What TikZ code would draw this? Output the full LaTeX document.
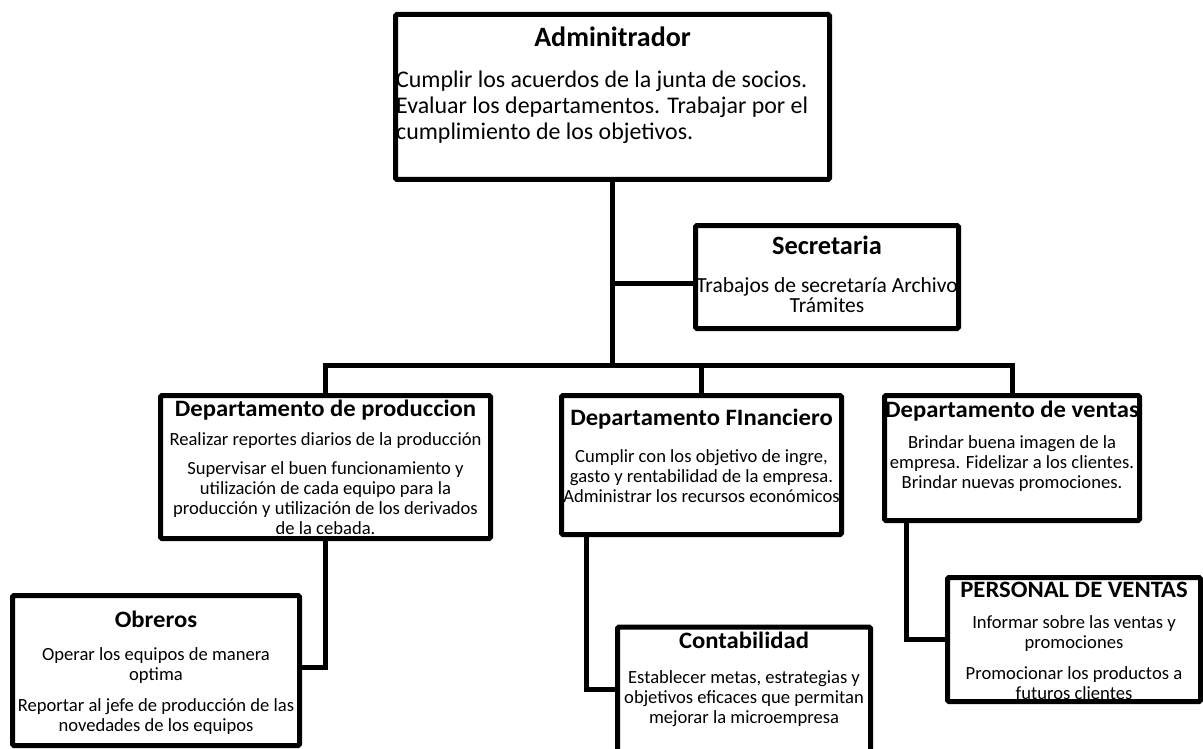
\documentclass[tikz,border=0pt]{standalone}
\usepackage{fontspec}
\setmainfont{Carlito}
\newfontfamily\titular[FakeStretch=1.05]{Carlito}
\usetikzlibrary{positioning}

\tikzset{
  caja/.style={draw, line width=5pt, rounded corners=1.5pt},
  linea/.style={line width=5pt},
  titulo/.style={anchor=base, inner sep=0pt, font=\titular\fontsize{23.5}{28}\selectfont\bfseries},
  cuerpo/.style={anchor=north, inner sep=0pt, align=center, font=\fontsize{18.6}{20}\selectfont},
}

\begin{document}
\begin{tikzpicture}[x=1pt, y=-1pt]
	\useasboundingbox (0,0) rectangle (1203,749);

	% cajas
	\node[caja, minimum width=434pt, minimum height=165pt] (admin) at (612.5,97) {};
	\node[caja, minimum width=263pt, minimum height=103pt] (secre) at (827,277) {};
	\node[caja, minimum width=330pt, minimum height=143pt] (prod) at (325.5,467) {};
	\node[caja, minimum width=280pt, minimum height=139pt] (fin) at (701.5,465) {};
	\node[caja, minimum width=255pt, minimum height=125pt] (ventas) at (1012,458) {};
	\node[caja, minimum width=287pt, minimum height=150pt] (obreros) at (156,670.5) {};
	\node[caja, minimum width=253pt, minimum height=150pt] (conta) at (744,702) {};
	\node[caja, minimum width=253pt, minimum height=124pt] (personal) at (1074,639.5) {};

	% textos
	\node[titulo, font=\fontsize{28}{32}\selectfont\bfseries] (admin-tit) at (612.5,47) {Adminitrador};
	\node[cuerpo, anchor=north west, align=left, font=\fontsize{23.9}{26}\selectfont] (admin-txt) at (396,70.3)
		{Cumplir los acuerdos de la junta de socios.\\ Evaluar los departamentos. Trabajar por el\\ cumplimiento de los objetivos.};

	\node[titulo, font=\fontsize{26.4}{30}\selectfont\bfseries] (secre-tit) at (827,254) {Secretaria};
	\node[cuerpo, font=\fontsize{21.5}{20}\selectfont] (secre-txt) at (827,277.7)
		{Trabajos de secretaría Archivo\\ Trámites};

	\node[titulo] (prod-tit) at (325.5,416) {Departamento de produccion};
	\node[cuerpo] (prod-txt) at (325.5,432)
		{Realizar reportes diarios de la producción\\[9pt]
		 Supervisar el buen funcionamiento y\\ utilización de cada equipo para la\\
		 producción y utilización de los derivados\\ de la cebada.};

	\node[titulo] (fin-tit) at (701.5,425) {Departamento FInanciero};
	\node[cuerpo] (fin-txt) at (701.5,449)
		{Cumplir con los objetivo de ingre,\\ gasto y rentabilidad de la empresa.\\ Administrar los recursos económicos};

	\node[titulo] (ventas-tit) at (1012,417) {Departamento de ventas};
	\node[cuerpo] (ventas-txt) at (1012,435)
		{Brindar buena imagen de la\\ empresa. Fidelizar a los clientes.\\ Brindar nuevas promociones.};

	\node[titulo] (obreros-tit) at (156,627) {Obreros};
	\node[cuerpo] (obreros-txt) at (156,647)
		{Operar los equipos de manera\\ optima\\[11pt] Reportar al jefe de producción de las\\ novedades de los equipos};

	\node[titulo] (conta-tit) at (744,648) {Contabilidad};
	\node[cuerpo] (conta-txt) at (744,670)
		{Establecer metas, estrategias y\\ objetivos eficaces que permitan\\ mejorar la microempresa};

	\node[titulo] (personal-tit) at (1074,597.5) {PERSONAL DE VENTAS};
	\node[cuerpo] (personal-txt) at (1074,615)
		{Informar sobre las ventas y\\ promociones\\[11pt] Promocionar los productos a\\ futuros clientes};

	% conectores
	\coordinate (bus) at (612.5,365);
	\draw[linea] (admin.south) -- (bus);
	\draw[linea] (admin.south |- 0,283) -- ([yshift=-6pt]secre.west);
	\draw[linea] (prod.north) |- (bus) -| (ventas.north);
	\draw[linea] (bus -| fin.north) -- (fin.north);
	\draw[linea] (prod.south) |- ([yshift=3pt]obreros.east);
	\draw[linea] ([xshift=27pt]fin.south west) |- ([yshift=13pt]conta.west);
	\draw[linea] ([xshift=24pt]ventas.south west) |- (personal.west);
\end{tikzpicture}
\end{document}
